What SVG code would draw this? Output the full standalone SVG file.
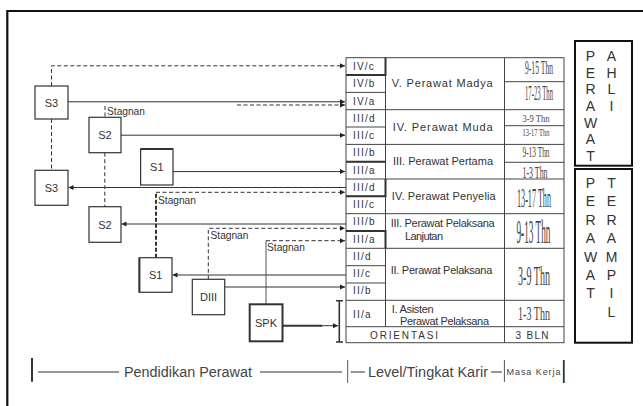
<svg xmlns="http://www.w3.org/2000/svg" width="643" height="406" viewBox="0 0 643 406">
<style>
.bg{fill:#fff}
.frame{fill:none;stroke:#111;stroke-width:2.2}
.box{fill:#fff;stroke:#333;stroke-width:1.2}
.bold{stroke-width:2}
.lbl{font-family:"Liberation Sans",Arial,sans-serif;font-size:11px;fill:#333;text-anchor:middle}
.stg{font-family:"Liberation Sans",Arial,sans-serif;font-size:10.2px;fill:#333}
.ln{fill:none;stroke:#333;stroke-width:1}
.dash{fill:none;stroke:#333;stroke-width:1;stroke-dasharray:4 2.5}
.tbl{fill:none;stroke:#444;stroke-width:1}
.tblb{fill:none;stroke:#333;stroke-width:2}
.gr{font-family:"Liberation Sans",Arial,sans-serif;font-size:10px;fill:#333;letter-spacing:1.2px}
.lv{font-family:"Liberation Sans",Arial,sans-serif;font-size:11px;fill:#333}
.mk{font-family:"Liberation Serif","Times New Roman",serif;fill:#444;text-anchor:middle}
.vt{font-family:"Liberation Sans",Arial,sans-serif;font-size:14px;fill:#333;writing-mode:vertical-rl;text-orientation:upright}
.leg{font-family:"Liberation Sans",Arial,sans-serif;font-size:14px;fill:#444}
</style>
<defs>
<marker id="ah" markerUnits="userSpaceOnUse" markerWidth="6" markerHeight="6" refX="5" refY="3" orient="auto">
<path d="M0,0.5 L5,3 L0,5.5 Z" fill="#222"/>
</marker>
</defs>
<rect class="bg" x="0" y="0" width="643" height="406"/>
<path class="frame" d="M7.3,410 V11 H650"/>

<g id="connectors">
<path class="dash" d="M51.5,86 V65.8 H345" marker-end="url(#ah)"/>
<path class="ln" d="M68,101.8 H345" marker-end="url(#ah)"/>
<path class="dash" d="M237,105 H345" marker-end="url(#ah)"/>
<path class="dash" d="M51.5,119 V170.3"/>
<path class="dash" d="M105,106 V117.3"/>
<path class="ln" d="M121,135.2 H345" marker-end="url(#ah)"/>
<path class="dash" d="M104.8,152.7 V206.7"/>
<path class="ln" d="M173,171.6 H345" marker-end="url(#ah)"/>
<path class="ln" d="M346,187.5 H68.5" marker-end="url(#ah)"/>
<path class="dash" d="M156,192.3 H345" marker-end="url(#ah)"/>
<path class="dash" d="M156,257.7 V192.3" style="stroke-width:2;stroke-dasharray:4 2"/>
<path class="ln" d="M346,224 H121.5" marker-end="url(#ah)"/>
<path class="dash" d="M208.3,279.3 V228.3 H345" marker-end="url(#ah)"/>
<path class="ln" d="M266,304.3 V240.7" style="stroke:#555"/>
<path class="dash" d="M266,240.7 H345" marker-end="url(#ah)"/>
<path class="ln" d="M346,275 H172.5" marker-end="url(#ah)"/>
<path class="ln" d="M224.7,287 H345" marker-end="url(#ah)"/>
<path class="ln" d="M282.7,325.7 H322" style="stroke-width:2"/>
<path class="ln" d="M320,325.7 H338" marker-end="url(#ah)"/>
<path class="ln" d="M339.3,300.7 V342 M336,300.7 H343 M336,342 H343" style="stroke-width:1.6"/>
</g>

<g id="node-s3-top"><rect class="box" x="35" y="86" width="33" height="33"/><text class="lbl" x="51.5" y="106.5">S3</text></g>
<g id="node-s2-top"><rect class="box" x="89" y="117.3" width="32" height="35.4"/><text class="lbl" x="105" y="139">S2</text></g>
<g id="node-s1-top"><rect class="box" x="140.6" y="149" width="32.4" height="36"/><path class="ln" d="M140.6,149 H173" style="stroke-width:2"/><text class="lbl" x="156.8" y="171">S1</text></g>
<g id="node-s3-bottom"><rect class="box" x="35" y="170.3" width="33" height="35"/><text class="lbl" x="51.5" y="191.5">S3</text></g>
<g id="node-s2-bottom"><rect class="box" x="89" y="206.7" width="32" height="35.6"/><text class="lbl" x="105" y="228.5">S2</text></g>
<g id="node-s1-bottom"><rect class="box" x="139.4" y="257.7" width="32.6" height="34.6"/><path class="ln" d="M139.4,257.7 V292.3" style="stroke-width:2"/><text class="lbl" x="155.7" y="279">S1</text></g>
<g id="node-diii"><rect class="box" x="192.3" y="279.3" width="32.4" height="35.4"/><text class="lbl" x="208.5" y="301">DIII</text></g>
<g id="node-spk"><rect class="box bold" x="249.7" y="304.3" width="32.8" height="37"/><text class="lbl" x="266" y="326.5">SPK</text></g>

<g id="stagnan-labels">
<text class="stg" x="107" y="114.5">Stagnan</text>
<text class="stg" x="158" y="204">Stagnan</text>
<text class="stg" x="210.5" y="239">Stagnan</text>
<text class="stg" x="267" y="251">Stagnan</text>
</g>

<g id="career-table">
<rect class="tbl" x="346" y="57.7" width="218" height="285"/>
<path class="tbl" d="M385.5,57.7 V326.7 M504.5,57.7 V342.7"/>
<path class="tbl" d="M346,75 H385.5 M346,92.4 H385.5 M346,127 H385.5 M346,161.7 H385.5 M346,196.3 H385.5 M346,231 H385.5 M346,265.7 H385.5 M346,283 H385.5"/>
<path class="tbl" d="M346,109.7 H564 M346,144.4 H564 M346,179 H564 M346,213.7 H564 M346,248.3 H564 M346,300.3 H564 M346,326.7 H564"/>
<path class="tbl" d="M504.5,81.7 H564 M504.5,125.7 H564 M504.5,162.3 H564"/>
<path class="tblb" d="M346,75 H385.5 V57.7 M346,161.7 H385.5 M385.5,179 V196.3 H346 M346,231 H385.5 V248.3"/>

<text class="gr" x="353" y="70">IV/c</text>
<text class="gr" x="353" y="87.3">IV/b</text>
<text class="gr" x="353" y="104.5">IV/a</text>
<text class="gr" x="353" y="121.8">III/d</text>
<text class="gr" x="353" y="139">III/c</text>
<text class="gr" x="353" y="156.3">III/b</text>
<text class="gr" x="353" y="173.5">III/a</text>
<text class="gr" x="353" y="190.8">III/d</text>
<text class="gr" x="353" y="208">III/c</text>
<text class="gr" x="353" y="225.3">III/b</text>
<text class="gr" x="353" y="242.5">III/a</text>
<text class="gr" x="353" y="259.8">II/d</text>
<text class="gr" x="353" y="277">II/c</text>
<text class="gr" x="353" y="294.3">II/b</text>
<text class="gr" x="353" y="317.5">II/a</text>

<text class="lv" x="391.7" y="87" textLength="101" lengthAdjust="spacing">V. Perawat Madya</text>
<text class="lv" x="392.7" y="131" textLength="100" lengthAdjust="spacing">IV. Perawat Muda</text>
<text class="lv" x="393" y="165" textLength="100" lengthAdjust="spacing">III. Perawat Pertama</text>
<text class="lv" x="391.7" y="200" textLength="104" lengthAdjust="spacing">IV. Perawat Penyelia</text>
<text class="lv" x="390.7" y="227" textLength="104" lengthAdjust="spacing">III. Perawat Pelaksana</text>
<text class="lv" x="405" y="240" textLength="38" lengthAdjust="spacing">Lanjutan</text>
<text class="lv" x="390.7" y="274" textLength="101.6" lengthAdjust="spacing">II. Perawat Pelaksana</text>
<text class="lv" x="391.7" y="313" textLength="42" lengthAdjust="spacing">I. Asisten</text>
<text class="lv" x="400" y="325" textLength="89" lengthAdjust="spacing">Perawat Pelaksana</text>
<text class="lv" x="370" y="338.5" style="font-size:10px" textLength="68" lengthAdjust="spacing">ORIENTASI</text>

<text class="mk" x="539" y="73.5" style="font-size:18px" textLength="28" lengthAdjust="spacingAndGlyphs">9-15 Thn</text>
<text class="mk" x="539" y="100" style="font-size:21px" textLength="28" lengthAdjust="spacingAndGlyphs">17-23 Thn</text>
<text class="mk" x="536" y="122.3" style="font-size:11px" textLength="27" lengthAdjust="spacingAndGlyphs">3-9 Thn</text>
<text class="mk" x="536" y="135.5" style="font-size:11px" textLength="27" lengthAdjust="spacingAndGlyphs">13-17 Thn</text>
<text class="mk" x="536" y="156.8" style="font-size:15px" textLength="27" lengthAdjust="spacingAndGlyphs">9-13 Thn</text>
<text class="mk" x="535" y="177.5" style="font-size:16px" textLength="25" lengthAdjust="spacingAndGlyphs">1-3 Thn</text>
<text class="mk" x="534" y="207" style="font-size:28px" textLength="34" lengthAdjust="spacingAndGlyphs">13-17 Thn</text>
<text class="mk" x="533.5" y="243" style="font-size:33px" textLength="34" lengthAdjust="spacingAndGlyphs">9-13 Thn</text>
<text class="mk" x="534" y="285" style="font-size:27px" textLength="32" lengthAdjust="spacingAndGlyphs">3-9 Thn</text>
<text class="mk" x="534" y="320" style="font-size:19px" textLength="32" lengthAdjust="spacingAndGlyphs">1-3 Thn</text>
<text class="lv" x="515.5" y="338.5" style="font-size:10px" textLength="33" lengthAdjust="spacing">3 BLN</text>
</g>

<g id="perawat-ahli">
<rect class="box" x="575" y="41" width="57" height="124.7" style="stroke:#111;stroke-width:2"/>
<text class="vt" x="590.5" y="48" style="letter-spacing:0.7px">PERAWAT</text>
<text class="vt" x="611.5" y="48" style="letter-spacing:0.7px">AHLI</text>
</g>

<g id="perawat-terampil">
<rect class="box" x="575" y="169" width="57" height="173.7" style="stroke:#111;stroke-width:2"/>
<text class="vt" x="590.5" y="175" style="letter-spacing:2.4px">PERAWAT</text>
<text class="vt" x="611.5" y="175" style="letter-spacing:2.4px">TERAMPIL</text>
</g>

<g id="legend">
<path class="ln" d="M32,358 V381.7" style="stroke-width:2"/>
<path class="ln" d="M38,372 H119 M260,372 H342 M350.6,372 H365 M491,372 H502"/>
<path class="ln" d="M347.7,360 V383 M504.4,360 V382" style="stroke:#555"/>
<path class="ln" d="M563.8,360 V383" style="stroke-width:1.8"/>
<text class="leg" x="124" y="377" textLength="128" lengthAdjust="spacingAndGlyphs">Pendidikan Perawat</text>
<text class="leg" x="368" y="377" textLength="120" lengthAdjust="spacingAndGlyphs">Level/Tingkat Karir</text>
<text class="leg" x="506.5" y="375" style="font-size:9px" textLength="54" lengthAdjust="spacing">Masa Kerja</text>
</g>
</svg>
